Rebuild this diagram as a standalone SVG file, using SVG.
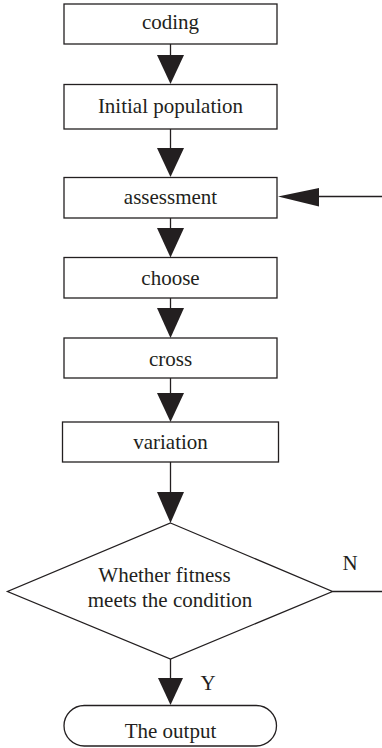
<svg xmlns="http://www.w3.org/2000/svg" width="382" height="748" viewBox="0 0 382 748">
<style>
.box{fill:#fff;stroke:#231f20;stroke-width:1.3}
.ln{fill:none;stroke:#231f20;stroke-width:1.3}
.ah{fill:#231f20;stroke:none}
text{font-family:"Liberation Serif","Times New Roman",serif;font-size:21px;fill:#231f20;text-anchor:middle}
</style>
<rect width="382" height="748" fill="#fff"/>
<g id="connectors">
<line class="ln" x1="170.5" y1="44" x2="170.5" y2="56"/>
<polygon class="ah" points="157,55 184,55 170.5,84"/>
<line class="ln" x1="170.5" y1="129" x2="170.5" y2="149"/>
<polygon class="ah" points="157,148 184,148 170.5,177"/>
<line class="ln" x1="382" y1="196.5" x2="318" y2="196.5"/>
<polygon class="ah" points="319,188 319,206.5 278,196.5"/>
<line class="ln" x1="170.5" y1="218" x2="170.5" y2="229"/>
<polygon class="ah" points="157,228 184,228 170.5,257.5"/>
<line class="ln" x1="170.5" y1="298" x2="170.5" y2="309"/>
<polygon class="ah" points="157,308 184,308 170.5,338"/>
<line class="ln" x1="170.5" y1="378" x2="170.5" y2="394"/>
<polygon class="ah" points="157,393 184,393 170.5,422"/>
<line class="ln" x1="170.5" y1="462" x2="170.5" y2="493"/>
<polygon class="ah" points="157,492 184,492 170.5,523"/>
<line class="ln" x1="332.5" y1="591.5" x2="382" y2="591.5"/>
<text x="350" y="570">N</text>
<line class="ln" x1="170.5" y1="659" x2="170.5" y2="679"/>
<polygon class="ah" points="158,678 183,678 170.5,705"/>
<text x="208" y="690">Y</text>
</g>
<g id="coding">
<rect class="box" x="64" y="4" width="213" height="40"/>
<text x="170.5" y="29">coding</text>
</g>
<g id="initial-population">
<rect class="box" x="64" y="84.5" width="213" height="44.5"/>
<text x="170.5" y="113">Initial population</text>
</g>
<g id="assessment">
<rect class="box" x="64" y="177.5" width="213" height="40.5"/>
<text x="170.5" y="204">assessment</text>
</g>
<g id="choose">
<rect class="box" x="64" y="257.5" width="213" height="40.5"/>
<text x="170.5" y="285">choose</text>
</g>
<g id="cross">
<rect class="box" x="64" y="338" width="213" height="40"/>
<text x="170.5" y="365.5">cross</text>
</g>
<g id="variation">
<rect class="box" x="62.5" y="422" width="216" height="40"/>
<text x="170.5" y="449">variation</text>
</g>
<g id="decision">
<polygon class="box" points="170.5,523 332.5,591.5 170.5,659 7.5,591.5"/>
<text x="164.5" y="581.5">Whether fitness</text>
<text x="170" y="606.5">meets the condition</text>
</g>
<g id="output">
<rect class="box" x="64" y="705.5" width="212.5" height="40.5" rx="20.25" ry="20.25"/>
<text x="170.5" y="738">The output</text>
</g>
</svg>
